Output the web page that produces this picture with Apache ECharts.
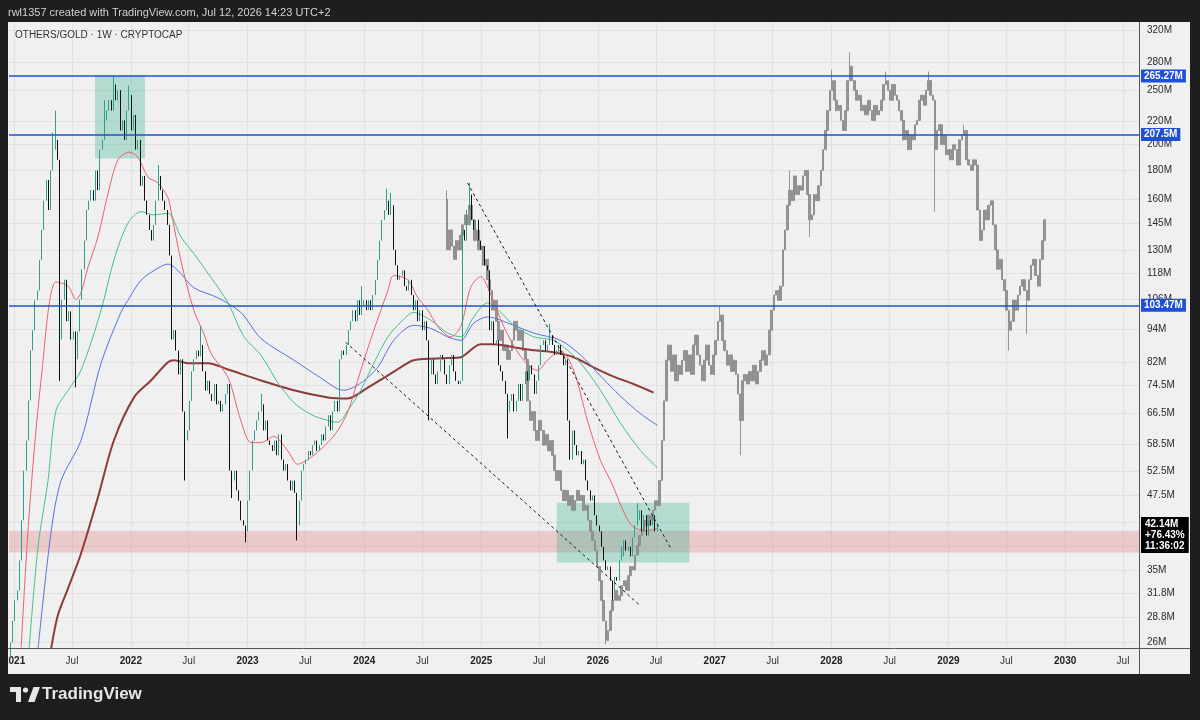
<!DOCTYPE html>
<html>
<head>
<meta charset="utf-8">
<title>OTHERS/GOLD 1W</title>
<script src="https://cdn.jsdelivr.net/npm/echarts@6/dist/echarts.min.js"></script>
<style>
  html, body { margin: 0; padding: 0; background: #1e1e1e; }
  #chart { width: 1200px; height: 720px; }
</style>
</head>
<body>
<div id="chart"></div>
<script>
// weekly candles, week 0 = week of 2020-12-21, values in millions
var firstWeek = Date.UTC(2020, 11, 21);
var realOpen0 = 24.5;
var realClose = [
  26,28.4,30.9,32.2,36.4,42.9,52.6,59.5,70.1,86.1,
  93.5,105.7,110,124.6,141,159,173,153,180,196,
  204,188,90,106,115,97,101,90,93,83,
  93,106,120,135,153,159,166,159,180,166,
  196,204,221,230,240,230,256,240,250,212,
  221,204,230,245,212,226,196,204,169,176,
  159,150,141,135,144,159,176,166,159,153,
  144,127,90,93.5,86,78,83,67,59.5,62,
  70,79,83,86,84,88,79,73,76,72,
  70,75,69,70,67,69,72,75,52.6,50.5,
  52.6,48.5,46.5,42.9,42,41,46.5,52.6,59.5,62,
  64.6,67,69,62,64.6,59.5,58.4,57,59.5,56,
  61,55,52.6,54,50.5,48.5,50.5,48,42,46.5,
  52.6,54,55,57,56,58.4,59.5,57,58.4,61,
  59.5,63,66,62,67,70,67,83,86,84.5,
  88,93.5,97,101.5,97,105.7,99.5,103.5,105.7,101.5,
  105.7,101.5,108,114.8,124.6,135,147,153,159,150,
  156,130,122,115,117,119.5,112,110,115,108,
  101.5,105.7,97,101.5,93.5,97,89.7,78,83,78,
  75,79,84.5,83,78,75,81,84.5,79,76,
  75,76,141,135,153,163,147,141,147,135,
  130,132,122,119.5,93.5,97,88,89.7,81,79,
  76,72,67,70,72,67,70,75,70,75,
  79,76,81,78,72,76,81,88,89.7,86,
  88,91.6,88,84.5,86,88,84.5,81,83,64.6,
  55,62,58.4,56,57,54,55,50.5,48.5,46.5,
  47.5,43.8,42,41,38.5,36.4,35,35.5,33.5,32.2,
  34,33.5,36.4,38.5,39.5,37.9,38.5,37,40,42,
  42.9,44.7,41,43.8,40.3,42.9,42,43.8,41,42.14
];
// [week, value] for the wicks that stand out
var realHighs = [[19,210],[20,230],[42,240],[46,265],[53,255],[66,184],[85,95],[112,72],[157,112],[168,167],[170,164],[205,171],[241,96],[280,46]];
var realLows = [[22,76],[29,74],[78,50.5],[99,47],[105,39.2],[128,39.5],[187,64.6],[222,60],[269,30.9],[274,37]];

// grey projected bars, starting at week 195
var projStart = 195;
var projOpen0 = 160;
var projClose = [
  130,141,132,125,135,130,138,144,150,144,
  156,147,135,141,130,132,122,125,115,110,
  101.5,105.7,97,89.7,93.5,86,88,83,86,89.7,
  97,93.5,89.7,93.5,86,83,70,64.6,67,62,
  59.5,64.6,62,58.4,61,57,59.5,56,52.6,50.5,
  52.6,48.5,46.5,48.5,45.6,47.5,44.7,46.5,48.5,46.5,
  47.5,44.7,45.6,42.9,41,39.5,37.9,35.5,33.5,30.9,
  28.4,26.2,27.3,29.6,30.9,32.2,30.9,31.5,32.8,33.5,
  32.2,34.2,35.5,35,37.2,38.7,40.3,41,42.9,42,
  43.8,42.9,44.7,46.5,45.6,50.5,59.5,70,82.7,88,
  79,84.5,76,81,78,82.7,86,79,84.5,78,
  88,91.6,84.5,81,76,82.7,88,81,78,84.5,
  89.7,97,99.5,89.7,86,81,84.5,79,82.7,78,
  72,64.6,76,78,75,79,76,81,75,79,
  82.7,86,81,84.5,93.5,101.5,108,110,105.7,112,
  130,141,156,166,159,176,163,169,166,176,
  180,163,147,150,163,159,169,180,196,212,
  230,250,260,240,230,235,221,212,230,260,
  276,260,250,240,245,230,235,226,240,230,
  221,235,226,230,240,256,260,250,240,256,
  245,240,230,221,204,212,196,208,204,217,
  221,240,245,235,250,260,245,240,196,212,
  217,200,208,192,196,188,200,196,184,204,
  208,212,188,184,180,188,184,153,135,141,
  153,147,156,159,144,130,120,125,115,110,
  101.5,93.5,97,105.7,101.5,108,112,115,110,105.7,
  115,122,125,117,112,125,135,147
];
var projHighs = [[195,166],[317,103],[348,180],[367,272],[375,292],[391,270],[410,270],[426,217]];
var projLows = [[266,25.8],[326,56],[357,137],[413,152],[446,86],[454,92]];

// moving averages [date, value]
var maRed = [
  ['2021-01-23',25.5],['2021-02-17',44],['2021-03-26',76],['2021-05-12',114],['2021-06-19',112],['2021-07-14',106],
  ['2021-07-29',109],['2021-08-20',121],['2021-09-20',137],['2021-10-22',164],['2021-11-22',188],['2021-12-26',194],
  ['2022-01-23',190],['2022-02-24',175],['2022-03-27',171],['2022-04-27',161],['2022-05-07',152],['2022-06-07',124],
  ['2022-07-17',101.5],['2022-08-18',92],['2022-09-09',85],['2022-11-01',77],['2022-12-11',64.6],['2023-01-12',59],
  ['2023-02-12',59],['2023-03-24',60.5],['2023-05-07',57],['2023-06-07',54],['2023-07-18',55.5],['2023-09-09',59],
  ['2023-10-10',62],['2023-11-11',67],['2023-12-21',79.3],['2024-01-31',93.5],['2024-03-15',110],['2024-04-02',117],
  ['2024-05-16',115],['2024-06-16',107],['2024-07-18',101.5],['2024-08-18',95],['2024-09-27',91],['2024-10-29',95],
  ['2024-11-29',111.5],['2024-12-30',116.5],['2025-01-30',108.5],['2025-03-12',95],['2025-05-04',84],['2025-06-26',79.3],
  ['2025-07-27',82.7],['2025-09-06',86],['2025-10-17',79.3],['2025-11-29',64.6],['2026-01-09',54.8],['2026-02-09',50.5],
  ['2026-04-13',42.2],['2026-05-30',41.1],['2026-07-06',41.5]
];
var maGreen = [
  ['2021-02-17',25.4],['2021-03-17',38.6],['2021-04-17',50.5],['2021-05-12',67.3],['2021-06-19',73.1],['2021-07-29',79.3],
  ['2021-09-30',101.5],['2021-11-09',124.6],['2021-12-23',145],['2022-02-02',152],['2022-03-14',150],['2022-04-27',151],
  ['2022-06-07',137],['2022-07-17',128],['2022-09-09',116],['2022-11-01',104.6],['2022-12-21',91],['2023-02-12',84.4],
  ['2023-04-06',75.4],['2023-05-26',69.5],['2023-07-18',66.2],['2023-09-09',64.6],['2023-10-10',64.1],['2023-11-11',67.3],
  ['2023-12-21',73.1],['2024-01-31',81.7],['2024-03-15',91],['2024-04-24',96.6],['2024-06-04',100.6],['2024-07-27',97.4],
  ['2024-09-18',92.4],['2024-10-29',91],['2024-12-08',98.7],['2025-01-21',104.6],['2025-03-03',100.6],['2025-04-12',95.4],
  ['2025-06-14',91],['2025-08-15',89.7],['2025-09-28',86.1],['2025-11-08',81.7],['2026-01-09',73.1],['2026-03-13',63.8],
  ['2026-05-14',57.1],['2026-07-06',53.2]
];
var maBlue = [
  ['2021-03-17',25.4],['2021-04-27',41.1],['2021-05-28',50.5],['2021-07-29',59.5],['2021-09-30',81.7],['2021-12-01',100.6],
  ['2021-12-23',105.7],['2022-02-02',114.8],['2022-03-27',120.6],['2022-04-27',122.6],['2022-05-28',119.5],['2022-07-17',111.3],
  ['2022-09-30',106.8],['2022-12-11',100.6],['2023-02-12',90.4],['2023-05-26',82.7],['2023-08-09',77.5],['2023-10-29',73.1],
  ['2023-12-21',75.3],['2024-02-12',80.3],['2024-04-02',89.7],['2024-06-04',95.4],['2024-07-27',94.2],['2024-09-18',91],
  ['2024-10-29',89.7],['2024-12-08',96.2],['2025-01-21',98.7],['2025-04-12',95.4],['2025-06-14',92.4],['2025-09-06',89.7],
  ['2025-11-08',84.4],['2026-01-09',77.5],['2026-03-13',71.3],['2026-05-14',66.4],['2026-07-06',63.3]
];
var maBrown = [
  ['2021-04-27',25.4],['2021-05-18',29.1],['2021-06-19',32.5],['2021-07-29',37.4],['2021-09-20',47.1],['2021-11-09',59.5],
  ['2022-01-11',71],['2022-03-05',76.1],['2022-04-27',82],['2022-05-16',82.7],['2022-06-28',81.7],['2022-08-30',81.7],
  ['2022-11-01',79.6],['2023-02-12',76.1],['2023-05-26',73.1],['2023-09-09',71],['2023-11-11',70.7],['2024-01-12',73.9],
  ['2024-03-15',77.7],['2024-04-24',80.3],['2024-06-04',82.7],['2024-09-18',83.4],['2024-10-29',83.7],['2024-12-30',88.3],
  ['2025-02-09',88.3],['2025-04-12',87.2],['2025-06-14',86.1],['2025-08-15',85.4],['2025-10-17',83.7],['2025-12-18',80.3],
  ['2026-02-19',77.3],['2026-04-22',75],['2026-06-24',72.4]
];

// drawings
var levels = [265.27, 207.5, 103.47];
var redZone = [41.1, 37.6];
var boxTop = ['2021-09-11', '2022-02-14', 265.27, 189];
var boxBottom = ['2025-08-25', '2026-10-14', 46.1, 36.1];
var trendUpper = [['2024-11-19', 171], ['2026-08-16', 38.3]];
var trendLower = [['2023-11-04', 89], ['2026-05-14', 30.2]];
var lastPrice = 42.14;
var lastChange = '+76.43%';
var countdown = '11:36:02';

// axes
var xStart = '2020-12-16', xEnd = '2030-08-20';
var yMin = 25.42, yMax = 330.7;
var priceTicks = [26, 28.8, 31.8, 35, 47.5, 52.5, 58.5, 66.5, 74.5, 82, 94, 106, 118, 130, 145, 160, 180, 200, 220, 250, 280, 320];
var gridTicks = [26, 28.8, 31.8, 35, 38.5, 42.5, 47.5, 52.5, 58.5, 66.5, 74.5, 82, 94, 106, 118, 130, 145, 160, 180, 200, 220, 250, 280, 320];

var L = Math.log;
var DAY = 86400000;
function ts(s) { return Date.parse(s + 'T00:00:00Z'); }
function weekTs(i) { return firstWeek + i * 7 * DAY; }
function fmtM(v) { return (Math.round(v * 10) / 10) + 'M'; }

function buildCandles(closes, start, open0, highs, lows) {
    var rows = [];
    for (var k = 0; k < closes.length; k++) {
        var o = k === 0 ? open0 : closes[k - 1];
        var c = closes[k];
        rows.push([o, c, Math.min(o, c), Math.max(o, c)]);
    }
    highs.forEach(function (h) { var r = rows[h[0] - start]; if (r) r[3] = Math.max(r[3], h[1]); });
    lows.forEach(function (l) { var r = rows[l[0] - start]; if (r) r[2] = Math.min(r[2], l[1]); });
    return rows.map(function (r, k) {
        return [weekTs(start + k), L(r[0]), L(r[1]), L(r[2]), L(r[3])];
    });
}
function maLine(points) {
    return points.map(function (p) { return [ts(p[0]), L(p[1])]; });
}

var xTicks = [];
for (var yr = 2021; yr <= 2030; yr++) {
    xTicks.push(Date.UTC(yr, 0, 1));
    xTicks.push(Date.UTC(yr, 6, 1));
}

var blue = '#1f4fd6';
var font = 'Liberation Sans';

var levelLines = levels.map(function (v) {
    return {
        yAxis: L(v),
        lineStyle: { color: blue, width: 1.6, type: 'solid' },
        label: {
            show: true, position: 'end', distance: 2, formatter: v + 'M',
            backgroundColor: blue, color: '#fff', fontSize: 10, fontWeight: 'bold',
            fontFamily: font, padding: [2, 3, 1, 3]
        }
    };
});
function trend(seg) {
    return [
        { coord: [ts(seg[0][0]), L(seg[0][1])], lineStyle: { color: '#1a1a1a', width: 1, type: [3, 3] }, label: { show: false } },
        { coord: [ts(seg[1][0]), L(seg[1][1])] }
    ];
}
var priceTag = {
    yAxis: L(lastPrice),
    lineStyle: { color: 'rgba(0,0,0,0)', width: 0.5 },
    label: {
        show: true, position: 'end', distance: 2, offset: [0, 10],
        formatter: lastPrice + 'M\n' + lastChange + '\n' + countdown,
        backgroundColor: '#000', color: '#fff', fontSize: 10, fontWeight: 'bold',
        fontFamily: font, lineHeight: 11, padding: [2, 4, 1, 4]
    }
};

var myChart = echarts.init(document.getElementById('chart'));

var option = {
    animation: false,
    backgroundColor: '#1e1e1e',
    title: [
        { text: 'rwl1357 created with TradingView.com, Jul 12, 2026 14:23 UTC+2', left: 8, top: 7, padding: 0,
          textStyle: { color: '#d2d2d2', fontSize: 11, fontWeight: 'normal', fontFamily: font } },
        { text: 'OTHERS/GOLD · 1W · CRYPTOCAP', left: 15, top: 30, padding: 0,
          textStyle: { color: '#333', fontSize: 10, fontWeight: 'normal', fontFamily: font } }
    ],
    graphic: [
        { type: 'rect', z: -10, silent: true, shape: { x: 8, y: 22, width: 1182, height: 652 }, style: { fill: '#f0f0f0' } },
        { type: 'line', z: 50, silent: true, shape: { x1: 1139.5, y1: 22, x2: 1139.5, y2: 674 }, style: { stroke: '#555', lineWidth: 1 } },
        { type: 'line', z: 50, silent: true, shape: { x1: 8, y1: 648.5, x2: 1190, y2: 648.5 }, style: { stroke: '#555', lineWidth: 1 } },
        { type: 'rect', z: 100, silent: true, shape: { x: 0, y: 22, width: 8, height: 660 }, style: { fill: '#1e1e1e' } },
        { type: 'rect', z: 100, silent: true, shape: { x: 10, y: 687, width: 11, height: 5 }, style: { fill: '#e6e6e6' } },
        { type: 'rect', z: 100, silent: true, shape: { x: 16, y: 687, width: 5, height: 15 }, style: { fill: '#e6e6e6' } },
        { type: 'circle', z: 100, silent: true, shape: { cx: 25.5, cy: 690, r: 2.6 }, style: { fill: '#e6e6e6' } },
        { type: 'polygon', z: 100, silent: true, shape: { points: [[28, 702], [33.5, 687], [40, 687], [34.5, 702]] }, style: { fill: '#e6e6e6' } },
        { type: 'text', z: 100, silent: true, x: 42, y: 686,
          style: { text: 'TradingView', fill: '#e6e6e6', font: 'bold 17px "Liberation Sans"' } }
    ],
    grid: { left: 8, right: 61, top: 22, bottom: 72, containLabel: false },
    xAxis: {
        type: 'value', min: ts(xStart), max: ts(xEnd),
        axisLine: { show: false },
        axisTick: { show: false, customValues: xTicks },
        splitLine: { show: true, lineStyle: { color: '#e1e1e1', width: 1 } },
        axisLabel: {
            customValues: xTicks, margin: 8, color: '#333', fontSize: 10, fontFamily: font,
            formatter: function (v) {
                var d = new Date(v);
                return d.getUTCMonth() === 0 ? '{y|' + d.getUTCFullYear() + '}' : 'Jul';
            },
            rich: { y: { fontWeight: 'bold', fontSize: 10, color: '#222', fontFamily: font } }
        }
    },
    yAxis: {
        type: 'value', position: 'right', min: L(yMin), max: L(yMax),
        axisLine: { show: false },
        axisTick: { show: false, customValues: gridTicks.map(L) },
        splitLine: { show: true, lineStyle: { color: '#e1e1e1', width: 1 } },
        axisLabel: {
            customValues: priceTicks.map(L), margin: 8, color: '#2b2b2b', fontSize: 10, fontFamily: font,
            formatter: function (v) { return fmtM(Math.exp(v)); }
        }
    },
    series: [
        {
            name: 'projection', type: 'candlestick', z: 2,
            data: buildCandles(projClose, projStart, projOpen0, projHighs, projLows),
            barWidth: 2,
            itemStyle: { color: '#8c8c8c', color0: '#8c8c8c', borderColor: '#8c8c8c', borderColor0: '#8c8c8c', borderWidth: 1, opacity: 0.9 }
        },
        { name: 'MA brown', type: 'line', z: 3, data: maLine(maBrown), smooth: 0.3, symbol: 'none', lineStyle: { color: '#8d3b3b', width: 2 } },
        { name: 'MA blue', type: 'line', z: 3, data: maLine(maBlue), smooth: 0.3, symbol: 'none', lineStyle: { color: '#5670e0', width: 1 } },
        { name: 'MA green', type: 'line', z: 3, data: maLine(maGreen), smooth: 0.3, symbol: 'none', lineStyle: { color: '#45bf8c', width: 1 } },
        { name: 'MA red', type: 'line', z: 3, data: maLine(maRed), smooth: 0.3, symbol: 'none', lineStyle: { color: '#e5636b', width: 1 } },
        {
            name: 'OTHERS/GOLD', type: 'candlestick', z: 4,
            data: buildCandles(realClose, 0, realOpen0, realHighs, realLows),
            barWidth: 1.3,
            itemStyle: { color: '#2f9e8c', color0: '#111', borderColor: '#2f9e8c', borderColor0: '#111', borderWidth: 1 },
            markArea: {
                silent: true,
                data: [
                    [{ yAxis: L(redZone[0]), itemStyle: { color: 'rgba(221,120,120,0.32)' } }, { yAxis: L(redZone[1]) }],
                    [{ coord: [ts(boxTop[0]), L(boxTop[2])], itemStyle: { color: 'rgba(70,180,150,0.35)' } }, { coord: [ts(boxTop[1]), L(boxTop[3])] }],
                    [{ coord: [ts(boxBottom[0]), L(boxBottom[2])], itemStyle: { color: 'rgba(70,180,150,0.35)' } }, { coord: [ts(boxBottom[1]), L(boxBottom[3])] }]
                ]
            },
            markLine: {
                silent: true, symbol: ['none', 'none'],
                data: levelLines.concat([trend(trendUpper), trend(trendLower), priceTag])
            }
        }
    ]
};

myChart.setOption(option);
</script>
</body>
</html>
